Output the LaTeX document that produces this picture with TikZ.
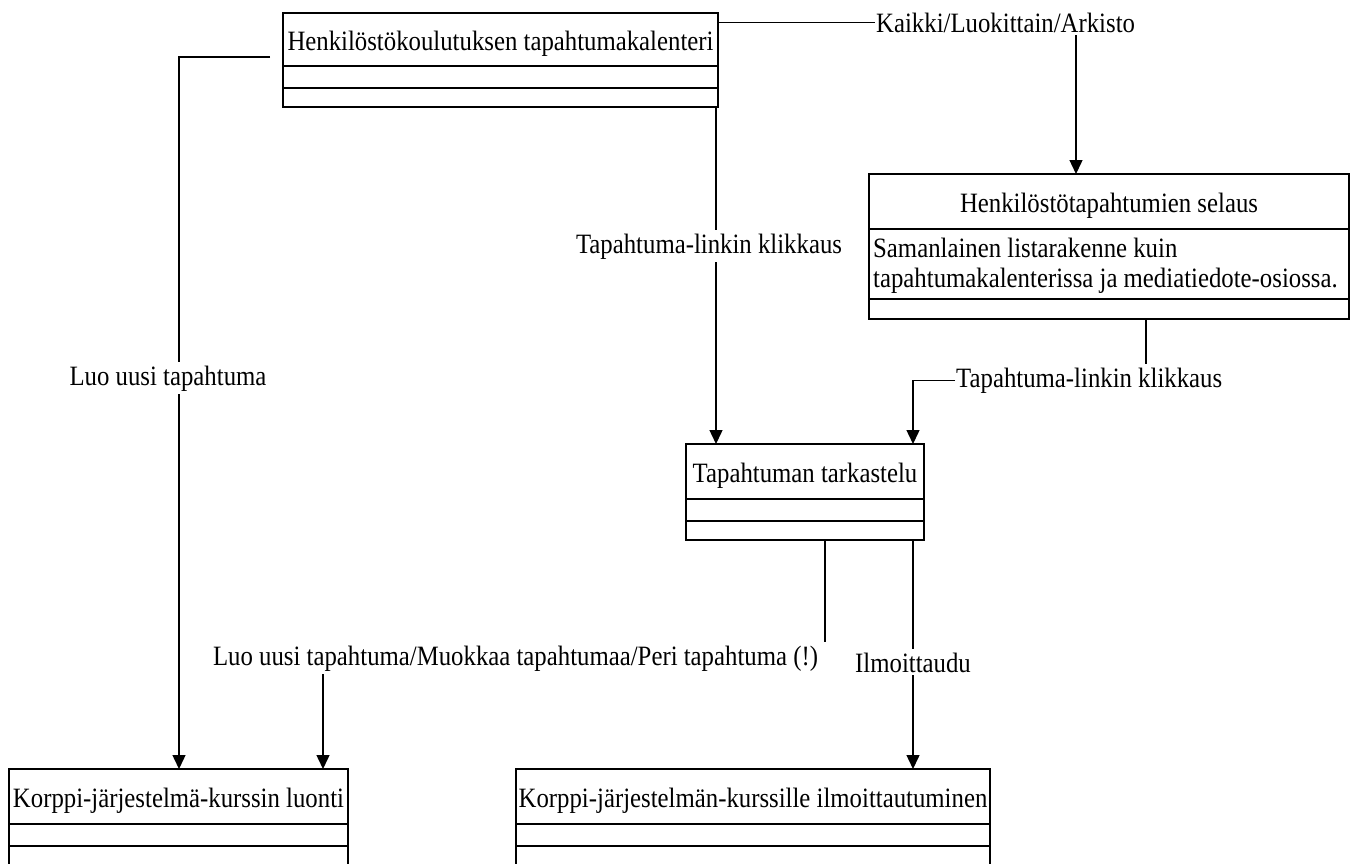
\documentclass[tikz,border=0pt]{standalone}
\usepackage{fontspec}
\setmainfont{Liberation Serif}[FakeStretch=0.885]
\usetikzlibrary{arrows.meta}
\begin{document}
\begin{tikzpicture}[x=1pt,y=-1pt,
  every node/.style={font=\fontsize{28}{30}\selectfont},
  umlbox/.style={draw=black, line width=1.4pt, anchor=north west, inner sep=0pt, outer sep=0pt},
  divider/.style={line width=1.4pt},
  ttl/.style={anchor=base, inner sep=0pt},
  lbl/.style={anchor=base, inner xsep=1pt, inner ysep=3pt},
  conn/.style={line width=1.4pt},
  arr/.style={conn, -{Triangle[width=13pt,length=14pt]}}
]
\useasboundingbox (0,0) rectangle (1356,863);
\clip (0,0) rectangle (1356,863);

% Box 1
\node[umlbox, minimum width=435pt, minimum height=94pt] (b1) at (283,13) {};
\draw[divider] (283,66) -- (718,66);
\draw[divider] (283,88) -- (718,88);
\node[ttl] (b1t) at (500.5,50) {Henkilöstökoulutuksen tapahtumakalenteri};

% Box 2
\node[umlbox, minimum width=480pt, minimum height=145pt] (b2) at (869,174) {};
\draw[divider] (869,229) -- (1349,229);
\draw[divider] (869,299) -- (1349,299);
\node[ttl] (b2t) at (1109,212) {Henkilöstötapahtumien selaus};
\node[ttl, anchor=base west] (b2a) at (873,257) {Samanlainen listarakenne kuin};
\node[ttl, anchor=base west] (b2b) at (873,287) {tapahtumakalenterissa ja mediatiedote-osiossa.};

% Box 3
\node[umlbox, minimum width=238pt, minimum height=96pt] (b3) at (686,444) {};
\draw[divider] (686,499) -- (924,499);
\draw[divider] (686,521) -- (924,521);
\node[ttl] (b3t) at (805,482) {Tapahtuman tarkastelu};

% Box 4
\node[umlbox, minimum width=339pt, minimum height=110pt] (b4) at (9,769) {};
\draw[divider] (9,824) -- (348,824);
\draw[divider] (9,846) -- (348,846);
\node[ttl] (b4t) at (178.5,807) {Korppi-järjestelmä-kurssin luonti};

% Box 5
\node[umlbox, minimum width=474pt, minimum height=110pt] (b5) at (516,769) {};
\draw[divider] (516,824) -- (990,824);
\draw[divider] (516,846) -- (990,846);
\node[ttl] (b5t) at (753,807) {Korppi-järjestelmän-kurssille ilmoittautuminen};

% x positions of vertical connectors
\coordinate (xk) at (1076,0);
\coordinate (x716) at (716,0);
\coordinate (x179) at (179,0);
\coordinate (x825) at (825,0);
\coordinate (x323) at (323,0);
\coordinate (x913) at (913,0);
\coordinate (x1146) at (1146,0);

% Labels
\node[lbl, anchor=base west] (lk) at (875,32) {Kaikki/Luokittain/Arkisto};
\node[lbl] (lt1) at (709,253) {Tapahtuma-linkin klikkaus};
\node[lbl] (lluo) at (168,385) {Luo uusi tapahtuma};
\node[lbl, anchor=base west] (lt2) at (955,387) {Tapahtuma-linkin klikkaus};
\node[lbl] (lmuo) at (515.5,665) {Luo uusi tapahtuma/Muokkaa tapahtumaa/Peri tapahtuma (!)};
\node[lbl] (lilm) at (913,672) {Ilmoittaudu};

% Connectors
\draw[conn] (b1.east |- lk.west) -- (lk.west);
\draw[arr] (lk.south -| xk) -- (b2.north -| xk);

\draw[conn] (b1.south -| x716) -- (lt1.north -| x716);
\draw[arr] (lt1.south -| x716) -- (b3.north -| x716);

\draw[conn] ([shift={(-13pt,-44pt)}]b1.north west) -| (lluo.north -| x179);
\draw[arr] (lluo.south -| x179) -- (b4.north -| x179);

\draw[conn] (b2.south -| x1146) -- (lt2.north -| x1146);
\draw[arr] (lt2.west) -| (b3.north -| x913);

\draw[conn] (b3.south -| x825) -- (lmuo.north -| x825);
\draw[arr] (lmuo.south -| x323) -- (b4.north -| x323);

\draw[conn] (b3.south -| x913) -- (lilm.north -| x913);
\draw[arr] (lilm.south -| x913) -- (b5.north -| x913);
\end{tikzpicture}
\end{document}
